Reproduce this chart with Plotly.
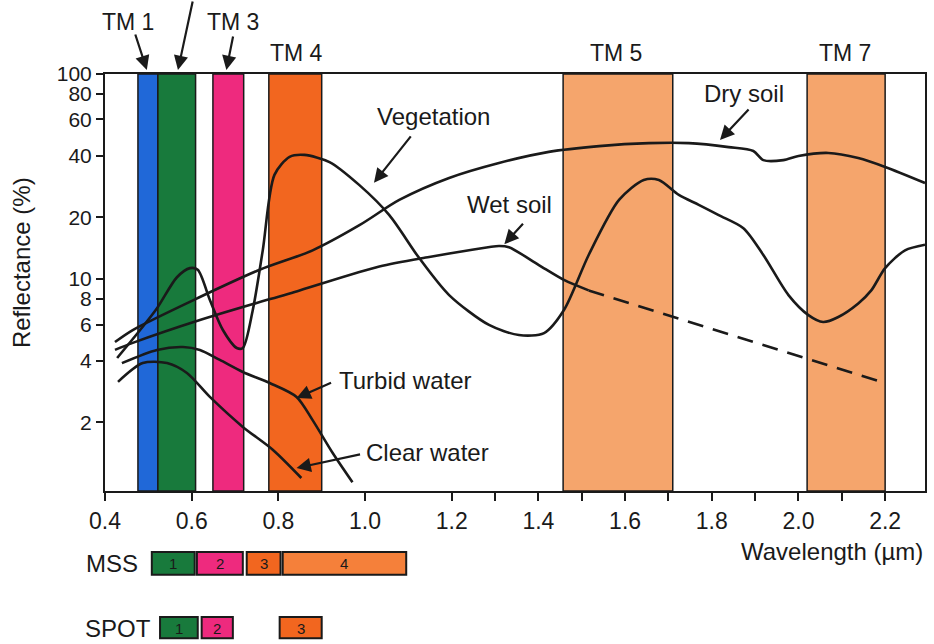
import plotly.graph_objects as go

# ---------------- data ----------------
band_names = ["TM 1", "TM 2", "TM 3", "TM 4", "TM 5", "TM 7"]
band_start = [0.476, 0.522, 0.649, 0.778, 1.457, 2.020]
band_end = [0.522, 0.609, 0.720, 0.900, 1.710, 2.200]

mss_labels = ["1", "2", "3", "4"]
mss_start = [0.508, 0.612, 0.727, 0.810]
mss_end = [0.607, 0.718, 0.805, 1.095]

spot_labels = ["1", "2", "3"]
spot_start = [0.527, 0.623, 0.803]
spot_end = [0.614, 0.695, 0.900]

veg_x = [0.428, 0.481, 0.520, 0.566, 0.596, 0.614, 0.642, 0.672, 0.704, 0.718, 0.741, 0.764,
         0.791, 0.826, 0.860, 0.918, 0.987, 1.056, 1.125, 1.194, 1.286, 1.355, 1.413, 1.459,
         1.516, 1.586, 1.643, 1.678, 1.724, 1.770, 1.816, 1.873, 1.919, 1.977, 2.023, 2.057,
         2.092, 2.138, 2.168, 2.200, 2.246, 2.292]
veg_y = [4.12, 5.64, 7.2, 10.2, 11.3, 11.1, 7.9, 5.64, 4.61, 4.61, 7.06, 13.8,
         32.2, 39.4, 40.3, 37.2, 28.7, 20.5, 12.65, 8.35, 5.97, 5.33, 5.45, 7.06,
         13.1, 24.3, 30.4, 30.4, 25.7, 23.0, 20.5, 17.7, 13.1, 8.35, 6.67, 6.17,
         6.53, 7.6, 8.8, 11.3, 13.8, 14.7]

dry_x = [0.423, 0.464, 0.619, 0.757, 0.879, 0.987, 1.079, 1.194, 1.309, 1.424, 1.540, 1.655,
         1.747, 1.839, 1.896, 1.919, 1.965, 2.000, 2.069, 2.138, 2.200, 2.292]
dry_y = [4.93, 5.64, 8.17, 11.1, 13.8, 18.3, 24.3, 31.1, 36.8, 41.7, 44.5, 46.0,
         46.0, 44.0, 42.1, 38.0, 38.0, 39.8, 41.2, 38.9, 35.2, 29.4]

wet_x = [0.423, 0.464, 0.619, 0.849, 1.033, 1.148, 1.240, 1.309, 1.332, 1.401, 1.459, 1.516]
wet_y = [4.51, 4.88, 6.31, 8.8, 11.5, 12.8, 13.8, 14.5, 14.3, 11.7, 9.9, 8.8]
wet_dash_x = [1.516, 2.200]
wet_dash_y = [8.8, 3.11]

turbid_x = [0.439, 0.520, 0.580, 0.619, 0.665, 0.718, 0.780, 0.842, 0.879, 0.925, 0.971]
turbid_y = [3.89, 4.51, 4.66, 4.51, 4.03, 3.52, 3.11, 2.66, 2.05, 1.42, 1.02]

clear_x = [0.430, 0.487, 0.543, 0.589, 0.642, 0.718, 0.787, 0.853]
clear_y = [3.15, 3.89, 3.89, 3.48, 2.66, 1.90, 1.47, 1.07]

x_ticks = [0.4, 0.6, 0.8, 1.0, 1.2, 1.3, 1.4, 1.5, 1.6, 1.7, 1.8, 1.9, 2.0, 2.1, 2.2]
x_tick_text = ["0.4", "0.6", "0.8", "1.0", "1.2", "", "1.4", "", "1.6", "", "1.8", "", "2.0", "", "2.2"]
y_ticks = [2, 4, 6, 8, 10, 20, 40, 60, 80, 100]
y_tick_text = ["2", "4", "6", "8", "10", "20", "40", "60", "80", "100"]

# ---------------- style ----------------
FONT = "Liberation Sans, Arial, sans-serif"
band_colors = ["#2068d8", "#187a3c", "#ee2a7e", "#f2661f", "#f5a56c", "#f5a56c"]
mss_colors = ["#187a3c", "#ee2a7e", "#f2661f", "#f5803a"]
spot_colors = ["#187a3c", "#ee2a7e", "#f2661f"]
INK = "#1a1a1a"

fig = go.Figure()

line_style = dict(color=INK, width=2.6, shape="spline", smoothing=0.8)
for xs, ys, nm in [(veg_x, veg_y, "Vegetation"), (dry_x, dry_y, "Dry soil"),
                   (wet_x, wet_y, "Wet soil"), (turbid_x, turbid_y, "Turbid water"),
                   (clear_x, clear_y, "Clear water")]:
    fig.add_trace(go.Scatter(x=xs, y=ys, mode="lines", name=nm, line=line_style,
                             hoverinfo="skip", showlegend=False))
fig.add_trace(go.Scatter(x=wet_dash_x, y=wet_dash_y, mode="lines", name="Wet soil (extrapolated)",
                         line=dict(color=INK, width=2.6, dash="16px,10px"),
                         hoverinfo="skip", showlegend=False))

shapes = []
for x0, x1, c in zip(band_start, band_end, band_colors):
    shapes.append(dict(type="rect", xref="x", yref="paper", x0=x0, x1=x1, y0=0, y1=1,
                       fillcolor=c, line=dict(color=INK, width=1.5), layer="below"))
for x0, x1, c in zip(mss_start, mss_end, mss_colors):
    shapes.append(dict(type="rect", xref="x", yref="paper", x0=x0, x1=x1, y0=-0.201, y1=-0.146,
                       fillcolor=c, line=dict(color=INK, width=2)))
for x0, x1, c in zip(spot_start, spot_end, spot_colors):
    shapes.append(dict(type="rect", xref="x", yref="paper", x0=x0, x1=x1, y0=-0.353, y1=-0.302,
                       fillcolor=c, line=dict(color=INK, width=2)))

ann = []
def text(t, x, y, size=23, xanchor="center", xref="paper", angle=0):
    ann.append(dict(text=t, x=x, y=y, xref=xref, yref="paper", showarrow=False,
                    xanchor=xanchor, yanchor="middle", textangle=angle,
                    font=dict(family=FONT, size=size, color=INK)))

def arrow(x, y, ax, ay):
    ann.append(dict(text="", x=x, y=y, xref="paper", yref="paper", ax=ax, ay=ay,
                    showarrow=True, arrowhead=2, arrowsize=1.3, arrowwidth=2.2,
                    arrowcolor=INK))

# band labels
text("TM 1", 0.028, 1.125)
text("TM 3", 0.156, 1.125)
text("TM 4", 0.2336, 1.050)
text("TM 5", 0.623, 1.050)
text("TM 7", 0.9027, 1.050)
arrow(0.051, 1.0096, -12, -37)
arrow(0.089, 1.0096, 15, -72)
arrow(0.148, 1.0096, 7, -35)

# curve labels
text("Vegetation", 0.401, 0.897, size=24)
arrow(0.328, 0.739, 38, -48)
text("Dry soil", 0.779, 0.954, size=24)
arrow(0.750, 0.842, 30, -32)
text("Wet soil", 0.493, 0.686, size=24)
arrow(0.487, 0.592, 20, -22)
text("Turbid water", 0.366, 0.266, size=24)
arrow(0.2336, 0.223, 36, -16)
text("Clear water", 0.393, 0.0935, size=24)
arrow(0.2336, 0.055, 65, -14)

# axis titles
text("Reflectance (%)", -0.101, 0.547, size=24, angle=-90)
text("Wavelength (µm)", 1.0, -0.144, size=24, xanchor="right")

# sensor rows
text("MSS", 0.0426, -0.173, size=24, xanchor="right")
text("SPOT", 0.058, -0.329, size=24, xanchor="right")
for lab, x0, x1 in zip(mss_labels, mss_start, mss_end):
    text(lab, (x0 + x1) / 2, -0.173, size=15, xref="x")
for lab, x0, x1 in zip(spot_labels, spot_start, spot_end):
    text(lab, (x0 + x1) / 2, -0.329, size=15, xref="x")

fig.update_layout(
    width=934, height=644,
    margin=dict(l=105, r=7, t=74, b=153),
    paper_bgcolor="white", plot_bgcolor="white",
    shapes=shapes, annotations=ann,
    font=dict(family=FONT, size=23, color=INK),
    xaxis=dict(range=[0.4, 2.292], tickvals=x_ticks, ticktext=x_tick_text,
               ticks="outside", ticklen=8, tickwidth=2, tickcolor=INK,
               showline=True, linecolor=INK, linewidth=2, mirror=True,
               showgrid=False, zeroline=False, tickfont=dict(size=23)),
    yaxis=dict(type="log", range=[-0.034, 2.0], tickvals=y_ticks, ticktext=y_tick_text,
               ticks="outside", ticklen=7, tickwidth=2, tickcolor=INK,
               showline=True, linecolor=INK, linewidth=2, mirror=True,
               showgrid=False, zeroline=False, tickfont=dict(size=21)),
)

fig.write_html("out.html", config={"displayModeBar": False},
               post_script="document.body.style.margin='0px';document.body.style.overflow='hidden';")
